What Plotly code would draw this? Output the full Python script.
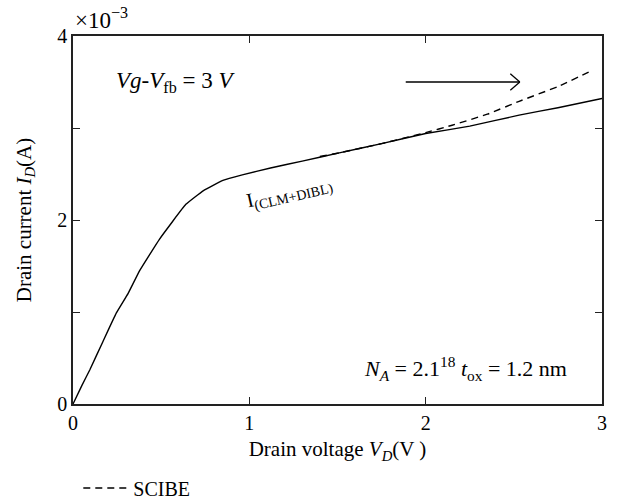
import plotly.graph_objects as go

# Drain voltage (V) and drain current (x10^-3 A)
vd_clm = [0, 0.05, 0.095, 0.17, 0.246, 0.312, 0.378, 0.49, 0.64, 0.74, 0.85, 0.96,
          1.12, 1.3, 1.51, 1.75, 2.0, 2.25, 2.53, 2.75, 3.0]
id_clm = [0, 0.2, 0.37, 0.68, 0.99, 1.2, 1.45, 1.79, 2.17, 2.32, 2.43, 2.49,
          2.565, 2.64, 2.73, 2.83, 2.94, 3.02, 3.14, 3.22, 3.32]

vd_scibe = [1.4, 1.51, 1.75, 2.0, 2.15, 2.35, 2.53, 2.75, 2.95]
id_scibe = [2.69, 2.73, 2.83, 2.95, 3.03, 3.15, 3.29, 3.45, 3.63]

x_ticks = [0, 1, 2, 3]
y_ticks = [0, 1, 2, 3, 4]
y_ticktext = ["0", "", "2", "", "4"]

FONT = "Liberation Serif, Times New Roman, serif"
FS = 20

fig = go.Figure()
fig.add_trace(go.Scatter(x=vd_clm, y=id_clm, mode="lines",
                         line=dict(color="black", width=1.4, shape="spline", smoothing=0.3),
                         showlegend=False))
fig.add_trace(go.Scatter(x=vd_scibe, y=id_scibe, mode="lines", name="SCIBE",
                         line=dict(color="black", width=1.4, dash="7px,5px",
                                   shape="spline", smoothing=0.3),
                         showlegend=True))

axis_common = dict(showline=True, linecolor="#222", linewidth=1.5, mirror="ticks",
                   ticks="inside", ticklen=7, tickwidth=1.2, tickcolor="#222",
                   showgrid=False, zeroline=False, automargin=False,
                   tickfont=dict(family=FONT, size=FS, color="black"))

fig.update_xaxes(range=[0, 3], tickvals=x_ticks,
                 title=dict(text="Drain voltage <i>V<sub>D</sub></i>(V )",
                            font=dict(family=FONT, size=21, color="black"), standoff=9),
                 **axis_common)
fig.update_yaxes(range=[0, 4], tickvals=y_ticks, ticktext=y_ticktext,
                 title=dict(text="Drain current <i>I<sub>D</sub></i>(A)",
                            font=dict(family=FONT, size=21, color="black"), standoff=20),
                 **axis_common)

annotations = [
    dict(x=0, y=1, xref="paper", yref="paper", xanchor="left", yanchor="bottom",
         text="×10<sup>−3</sup>", showarrow=False, yshift=1,
         font=dict(family=FONT, size=23, color="black")),
    dict(x=0.23, y=3.5, xref="x", yref="y", xanchor="left", yanchor="middle",
         text="<i>Vg</i>-<i>V</i><sub>fb</sub> = 3 <i>V</i>", showarrow=False,
         font=dict(family=FONT, size=23, color="black")),
    dict(x=2.81, y=0.39, xref="x", yref="y", xanchor="right", yanchor="middle",
         text="<i>N<sub>A</sub></i> = 2.1<sup>18</sup> <i>t</i><sub>ox</sub> = 1.2 nm",
         showarrow=False, font=dict(family=FONT, size=22, color="black")),
    dict(x=1.225, y=2.29, xref="x", yref="y", xanchor="center", yanchor="middle",
         text="I<sub>(CLM+DIBL)</sub>", textangle=-13, showarrow=False,
         font=dict(family=FONT, size=20, color="black")),
]

# arrow (open head)
arrow_y = 3.5
shapes = [
    dict(type="line", xref="x", yref="y", x0=1.887, x1=2.534, y0=arrow_y, y1=arrow_y,
         line=dict(color="black", width=1.3)),
    dict(type="line", xref="x", yref="y", x0=2.48, x1=2.534, y0=arrow_y + 0.09, y1=arrow_y,
         line=dict(color="black", width=1.3)),
    dict(type="line", xref="x", yref="y", x0=2.48, x1=2.534, y0=arrow_y - 0.09, y1=arrow_y,
         line=dict(color="black", width=1.3)),
]

fig.update_layout(
    width=617, height=501,
    margin=dict(l=73, r=15, t=36, b=97, autoexpand=False),
    paper_bgcolor="white", plot_bgcolor="white",
    annotations=annotations, shapes=shapes,
    legend=dict(x=0.01, xref="paper", y=0.026, yref="container",
                xanchor="left", yanchor="middle",
                font=dict(family=FONT, size=FS, color="black"),
                bgcolor="rgba(0,0,0,0)", itemwidth=45),
    font=dict(family=FONT, color="black"),
)

fig.write_html("out.html")
